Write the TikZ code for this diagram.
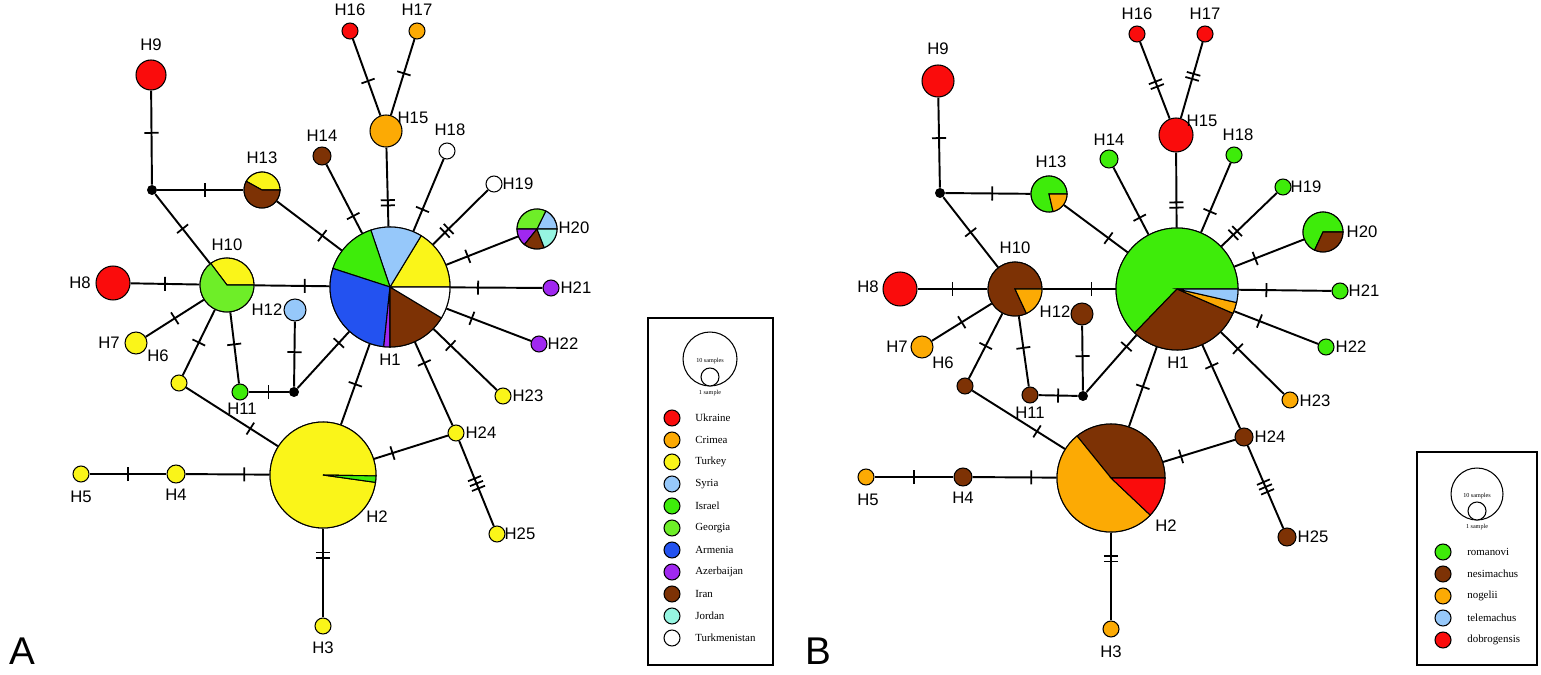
\documentclass[tikz,border=0pt]{standalone}
\usepackage{fontspec}
\setsansfont{Liberation Sans}
\newfontfamily\legfont{Liberation Serif}
\usetikzlibrary{decorations.markings, backgrounds}
\definecolor{ukrred}{RGB}{250,12,12}
\definecolor{crimorange}{RGB}{252,170,4}
\definecolor{turkyellow}{RGB}{250,245,25}
\definecolor{syrblue}{RGB}{150,200,250}
\definecolor{isrgreen}{RGB}{62,236,10}
\definecolor{geogreen}{RGB}{110,238,40}
\definecolor{armblue}{RGB}{35,82,240}
\definecolor{azpurple}{RGB}{160,40,240}
\definecolor{iranbrown}{RGB}{125,50,5}
\definecolor{jorcyan}{RGB}{150,245,225}
\colorlet{romgreen}{isrgreen}
\colorlet{nesbrown}{iranbrown}
\colorlet{nogorange}{crimorange}
\colorlet{telblue}{syrblue}
\colorlet{dobred}{ukrred}

\tikzset{
  hap/.style={circle, draw, line width=0.6pt, inner sep=0pt},
  rad/.style={minimum size=#1*0.04cm},
  mv/.style={circle, fill=black, inner sep=0pt, minimum size=0.2cm},
  lab/.style={font=\sffamily\fontsize{9.5}{11}\selectfont, inner sep=0pt},
  legtxt/.style={font=\legfont\fontsize{6.2}{8}\selectfont, inner sep=0pt, anchor=west},
  tiny/.style={font=\legfont\fontsize{3.5}{4}\selectfont, inner sep=0pt},
  legbox/.style={draw, line width=0.8pt, inner sep=0pt},
  edge/.style={line width=1.1pt},
  tk/.style={postaction={decorate, decoration={markings,
      mark=at position #1 with {\draw[line width=1pt] (0,-4pt) -- (0,4pt);}}}},
  tk/.default=0.5,
  tkk/.style={postaction={decorate, decoration={markings,
      mark=at position #1 with {\draw[line width=1pt] (-1.5pt,-4pt) -- (-1.5pt,4pt)
        (1.5pt,-4pt) -- (1.5pt,4pt);}}}},
  tkkk/.style={postaction={decorate, decoration={markings,
      mark=at position #1 with {\draw[line width=1pt] (-3pt,-4pt) -- (-3pt,4pt)
        (0pt,-4pt) -- (0pt,4pt) (3pt,-4pt) -- (3pt,4pt);}}}}
}

% slices of a haplotype pie: node, radius, list start/end/colour
\newcommand{\drawpie}[3]{%
  \foreach \sa/\sb/\sc in {#3}
    \filldraw[fill=\sc, line width=0.6pt] (#1.center) -- ++(\sa:#2)
      arc[start angle=\sa, end angle=\sb, radius=#2] -- cycle;}

\begin{document}
\begin{tikzpicture}[x=0.02cm, y=0.02cm]
  \useasboundingbox (0,0) rectangle (1541,-675);

  % ---- panel A ----
  \node[hap, rad=60] (a1) at (390,-287) {};
  \node[hap, rad=53] (a2) at (323,-475) {};
  \node[hap, rad=8, fill=turkyellow] (a3) at (323,-626) {};
  \node[hap, rad=9, fill=turkyellow] (a4) at (176,-474) {};
  \node[hap, rad=8, fill=turkyellow] (a5) at (81,-474) {};
  \node[hap, rad=8, fill=turkyellow] (a6) at (179,-383) {};
  \node[hap, rad=11, fill=turkyellow] (a7) at (136,-343) {};
  \node[hap, rad=17, fill=ukrred] (a8) at (113,-283) {};
  \node[hap, rad=15, fill=ukrred] (a9) at (151,-75) {};
  \node[hap, rad=27] (a10) at (227,-285) {};
  \node[hap, rad=8, fill=isrgreen] (a11) at (240,-392) {};
  \node[hap, rad=11, fill=syrblue] (a12) at (295,-310) {};
  \node[hap, rad=18] (a13) at (262,-190) {};
  \node[hap, rad=9, fill=iranbrown] (a14) at (322,-156) {};
  \node[hap, rad=16, fill=crimorange] (a15) at (386,-131) {};
  \node[hap, rad=8, fill=ukrred] (a16) at (350,-31) {};
  \node[hap, rad=8, fill=crimorange] (a17) at (417,-31) {};
  \node[hap, rad=8, fill=white] (a18) at (447,-151) {};
  \node[hap, rad=8, fill=white] (a19) at (494,-184) {};
  \node[hap, rad=20] (a20) at (537,-229) {};
  \node[hap, rad=8, fill=azpurple] (a21) at (551,-288) {};
  \node[hap, rad=8, fill=azpurple] (a22) at (539,-344) {};
  \node[hap, rad=8, fill=turkyellow] (a23) at (503,-396) {};
  \node[hap, rad=8, fill=turkyellow] (a24) at (456,-433) {};
  \node[hap, rad=8, fill=turkyellow] (a25) at (497,-534) {};
  \node[mv] (amv1) at (152,-190) {};
  \node[mv] (amv2) at (294,-392) {};

  \drawpie{a1}{60}{0/58.7/turkyellow, 58.7/108.6/syrblue, 108.6/162/isrgreen,
    162/264/armblue, 264/270/azpurple, 270/329/iranbrown, 329/360/white}
  \drawpie{a2}{53}{-1/352/turkyellow, 352/359/isrgreen}
  \drawpie{a10}{27}{0/127/turkyellow, 127/360/geogreen}
  \drawpie{a13}{18}{0/151/turkyellow, 151/360/iranbrown}
  \drawpie{a20}{20}{0/64/syrblue, 64/180/geogreen, 180/231/azpurple,
    231/291/iranbrown, 291/360/jorcyan}

  \foreach \n/\x/\y in {1/390/360, 2/377/517, 3/323/648, 4/176/495, 5/81/497,
      6/158/356, 7/109/343, 8/80/283, 9/151/45, 10/227/245, 11/242/409,
      12/267/310, 13/262/158, 14/322/136, 15/413/118, 16/350/10, 17/417/10,
      18/450/130, 19/518/184, 20/574/228, 21/576/288, 22/563/344, 23/528/396,
      24/481/433, 25/520/534}
    \node[lab] (la\n) at (\x,-\y) {H\n};

  % ---- panel B ----
  \node[hap, rad=61] (b1) at (1177,-289) {};
  \node[hap, rad=54] (b2) at (1111,-478) {};
  \node[hap, rad=8, fill=nogorange] (b3) at (1111,-629) {};
  \node[hap, rad=9, fill=nesbrown] (b4) at (963,-477) {};
  \node[hap, rad=8, fill=nogorange] (b5) at (866,-477) {};
  \node[hap, rad=8, fill=nesbrown] (b6) at (965,-386) {};
  \node[hap, rad=11, fill=nogorange] (b7) at (922,-347) {};
  \node[hap, rad=17, fill=dobred] (b8) at (900,-289) {};
  \node[hap, rad=16, fill=dobred] (b9) at (938,-81) {};
  \node[hap, rad=27] (b10) at (1015,-289) {};
  \node[hap, rad=8, fill=nesbrown] (b11) at (1030,-395) {};
  \node[hap, rad=11, fill=nesbrown] (b12) at (1082,-314) {};
  \node[hap, rad=18] (b13) at (1049,-194) {};
  \node[hap, rad=9, fill=romgreen] (b14) at (1109,-159) {};
  \node[hap, rad=17, fill=dobred] (b15) at (1176,-135) {};
  \node[hap, rad=8, fill=dobred] (b16) at (1137,-34) {};
  \node[hap, rad=8, fill=dobred] (b17) at (1205,-34) {};
  \node[hap, rad=8, fill=romgreen] (b18) at (1234,-155) {};
  \node[hap, rad=8, fill=romgreen] (b19) at (1283,-187) {};
  \node[hap, rad=20] (b20) at (1323,-232) {};
  \node[hap, rad=8, fill=romgreen] (b21) at (1340,-291) {};
  \node[hap, rad=8, fill=romgreen] (b22) at (1326,-347) {};
  \node[hap, rad=8, fill=nogorange] (b23) at (1290,-400) {};
  \node[hap, rad=9, fill=nesbrown] (b24) at (1244,-437) {};
  \node[hap, rad=9, fill=nesbrown] (b25) at (1287,-537) {};
  \node[mv] (bmv1) at (940,-193) {};
  \node[mv] (bmv2) at (1083,-396) {};

  \drawpie{b1}{61}{0/226/romgreen, 226/336.5/nesbrown, 336.5/347.2/nogorange,
    347.2/360/telblue}
  \drawpie{b2}{54}{0/129/nesbrown, 129/316.6/nogorange, 316.6/360/dobred}
  \drawpie{b10}{27}{0/295/nesbrown, 295/360/nogorange}
  \drawpie{b13}{18}{0/283/romgreen, 283/360/nogorange}
  \drawpie{b20}{20}{0/245/romgreen, 245/360/nesbrown}

  \foreach \n/\x/\y in {1/1178/363, 2/1166/526, 3/1111/652, 4/963/498,
      5/868/500, 6/943/363, 7/897/347, 8/868/287, 9/938/49, 10/1015/248,
      11/1030/413, 12/1055/312, 13/1051/162, 14/1109/140, 15/1202/121,
      16/1137/14, 17/1205/14, 18/1238/135, 19/1306/187, 20/1362/232,
      21/1364/291, 22/1351/347, 23/1315/401, 24/1270/437, 25/1313/537}
    \node[lab] (lb\n) at (\x,-\y) {H\n};

  % ---- links (same network in both panels) ----
  \begin{scope}[on background layer]
    \foreach \p in {a,b} {
      \draw[edge, tk=.45] (\p9) -- (\p mv1);
      \draw[edge, tk=.55] (\p mv1) -- (\p13);
      \draw[edge, tk=.5] (\p mv1) -- (\p10);
      \draw[edge, tk=.7] (\p13) -- (\p1);
      \draw[edge, tk=.75] (\p14) -- (\p1);
      \draw[edge, tkk=.7] (\p15) -- (\p1);
      \draw[edge, tk=.7] (\p18) -- (\p1);
      \draw[edge, tkk=.75] (\p19) -- (\p1);
      \draw[edge, tk=.7] (\p20) -- (\p1);
      \draw[edge, tk=.3] (\p1) -- (\p21);
      \draw[edge, tk=.3] (\p1) -- (\p22);
      \draw[edge, tk=.27] (\p1) -- (\p23);
      \draw[edge, tk=.25] (\p1) -- (\p24);
      \draw[edge, tk=.8] (\p mv2) -- (\p1);
      \draw[edge, tk=.5] (\p1) -- (\p2);
      \draw[edge, tk=.47] (\p12) -- (\p mv2);
      \draw[edge, tk=.5] (\p11) -- (\p mv2);
      \draw[edge, tk=.45] (\p10) -- (\p11);
      \draw[edge, tk=.5] (\p10) -- (\p6);
      \draw[edge, tk=.5] (\p10) -- (\p7);
      \draw[edge, tk=.5] (\p10) -- (\p8);
      \draw[edge, tk=.67] (\p10) -- (\p1);
      \draw[edge, tk=.7] (\p6) -- (\p2);
      \draw[edge, tk=.7] (\p4) -- (\p2);
      \draw[edge, tk=.5] (\p5) -- (\p4);
      \draw[edge, tkk=.3] (\p2) -- (\p3);
      \draw[edge, tk=.25] (\p2) -- (\p24);
      \draw[edge, tkkk=.5] (\p24) -- (\p25);
    }
    \draw[edge, tk=.55] (a16) -- (a15);
    \draw[edge, tk=.45] (a17) -- (a15);
    \draw[edge, tkk=.55] (b16) -- (b15);
    \draw[edge, tkk=.45] (b17) -- (b15);
  \end{scope}

  % ---- keys ----
  \node[legbox, minimum width=2.5cm, minimum height=6.94cm] (keyA) at (710.5,-491.5) {};
  \node[hap, rad=27] (szA10) at (710,-359) {};
  \node[hap, rad=9, fill=white] (szA1) at (710,-377) {};
  \node[tiny] (tA10) at (710,-361) {10 samples};
  \node[tiny] (tA1) at (710,-393) {1 sample};
  \foreach \c/\t [count=\i] in {ukrred/Ukraine, crimorange/Crimea,
      turkyellow/Turkey, syrblue/Syria, isrgreen/Israel, geogreen/Georgia,
      armblue/Armenia, azpurple/Azerbaijan, iranbrown/Iran, jorcyan/Jordan,
      white/Turkmenistan} {
    \node[hap, rad=8, fill=\c] (ka\i) at (672,{-418-22*(\i-1)}) {};
    \node[legtxt] (kta\i) at (695,{-418-22*(\i-1)}) {\t};
  }

  \node[legbox, minimum width=2.4cm, minimum height=4.26cm] (keyB) at (1477,-558.5) {};
  \node[hap, rad=26] (szB10) at (1477,-494) {};
  \node[hap, rad=9, fill=white] (szB1) at (1477,-511) {};
  \node[tiny] (tB10) at (1477,-496) {10 samples};
  \node[tiny] (tB1) at (1477,-527) {1 sample};
  \foreach \c/\t [count=\i] in {romgreen/romanovi, nesbrown/nesimachus,
      nogorange/nogelii, telblue/telemachus, dobred/dobrogensis} {
    \node[hap, rad=8, fill=\c] (kb\i) at (1443,{-552-22*(\i-1)}) {};
    \node[legtxt] (ktb\i) at (1467,{-552-22*(\i-1)}) {\t};
  }

  \node[font=\sffamily\fontsize{22}{22}\selectfont, inner sep=0pt, anchor=base] (pA) at (22,-664) {A};
  \node[font=\sffamily\fontsize{22}{22}\selectfont, inner sep=0pt, anchor=base] (pB) at (818,-664) {B};
\end{tikzpicture}
\end{document}
